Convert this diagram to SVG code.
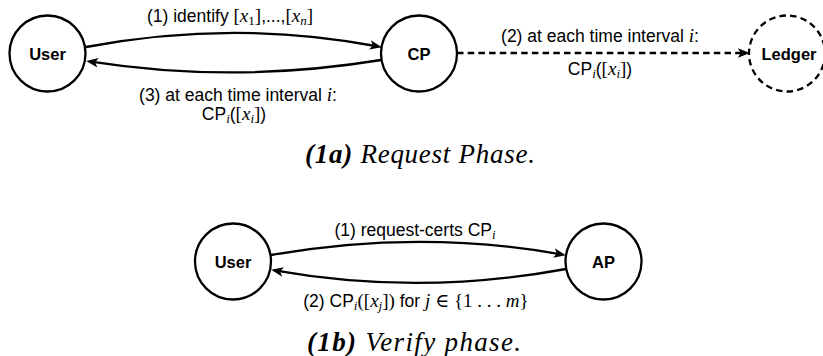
<svg xmlns="http://www.w3.org/2000/svg" width="823" height="356" viewBox="0 0 823 356">
<defs>
<style>
.node{fill:#fff;stroke:#000;stroke-width:2.3}
.dashed{stroke-dasharray:6.5,4.2}
.nl{font-family:"Liberation Sans",Arial,sans-serif;font-weight:bold;font-size:16.5px;text-anchor:middle;fill:#000}
.el{font-family:"Liberation Sans",Arial,sans-serif;font-size:17.5px;text-anchor:middle;fill:#000}
.m{font-family:"Liberation Serif","DejaVu Serif",serif;font-size:19px}
.mi{font-family:"Liberation Serif","DejaVu Serif",serif;font-style:italic;font-size:19px}
.sub{font-size:13px}
.edge{fill:none;stroke:#000;stroke-width:2.3}
.cap{font-family:"Liberation Serif","Times New Roman",serif;font-style:italic;font-size:27px;text-anchor:middle;fill:#000}
</style>
<marker id="arr" markerUnits="userSpaceOnUse" markerWidth="12" markerHeight="10" viewBox="0 0 10 8" refX="6" refY="4" orient="auto">
<path d="M0,0 L10,4 L0,8 L2.5,4 z" fill="#000"/>
</marker>
</defs>

<g id="connectors">
<path class="edge" d="M86,47 Q233.5,19 377.07,46.25" marker-end="url(#arr)"/>
<path class="edge" d="M381,60 Q234,84 90.95,61.62" marker-end="url(#arr)"/>
<path class="edge dashed" d="M457,53 L745,53" marker-end="url(#arr)"/>
<path class="edge" d="M271,255 Q418,229 561.06,254.3" marker-end="url(#arr)"/>
<path class="edge" d="M566,269 Q419,296 275.94,270.7" marker-end="url(#arr)"/>
</g>

<g id="edge-labels">
<text class="el" x="230" y="22">(1) identify <tspan class="m">[</tspan><tspan class="mi">x</tspan><tspan class="m sub" dy="3">1</tspan><tspan class="m" dy="-3">]</tspan>,...,<tspan class="m">[</tspan><tspan class="mi">x</tspan><tspan class="mi sub" dy="3">n</tspan><tspan class="m" dy="-3">]</tspan></text>
<text class="el" x="238" y="101">(3) at each time interval <tspan class="mi">i</tspan>:</text>
<text class="el" x="234" y="120">CP<tspan class="mi sub" dy="3">i</tspan><tspan dy="-3">(</tspan><tspan class="m">[</tspan><tspan class="mi">x</tspan><tspan class="mi sub" dy="3">i</tspan><tspan class="m" dy="-3">]</tspan>)</text>
<text class="el" x="600" y="42">(2) at each time interval <tspan class="mi">i</tspan>:</text>
<text class="el" x="600" y="75">CP<tspan class="mi sub" dy="3">i</tspan><tspan dy="-3">(</tspan><tspan class="m">[</tspan><tspan class="mi">x</tspan><tspan class="mi sub" dy="3">i</tspan><tspan class="m" dy="-3">]</tspan>)</text>
<text class="el" x="415" y="236">(1) request-certs CP<tspan class="mi sub" dy="3">i</tspan></text>
<text class="el" x="416" y="307">(2) CP<tspan class="mi sub" dy="3">i</tspan><tspan class="m" dy="-3">([</tspan><tspan class="mi">x</tspan><tspan class="mi sub" dy="3">j</tspan><tspan class="m" dy="-3">])</tspan> for <tspan class="mi">j</tspan> <tspan class="m">∈ {1 . . . </tspan><tspan class="mi">m</tspan><tspan class="m">}</tspan></text>
</g>

<g id="node-user-a">
<circle class="node" cx="47.5" cy="53.5" r="38"/>
<text class="nl" x="47.5" y="60">User</text>
</g>
<g id="node-cp">
<circle class="node" cx="419" cy="53.5" r="38"/>
<text class="nl" x="419" y="60">CP</text>
</g>
<g id="node-ledger">
<circle class="node dashed" cx="787" cy="53.5" r="38"/>
<text class="nl" x="789" y="60">Ledger</text>
</g>
<g id="node-user-b">
<circle class="node" cx="233" cy="261.5" r="38"/>
<text class="nl" x="233" y="268">User</text>
</g>
<g id="node-ap">
<circle class="node" cx="603.5" cy="261.5" r="38"/>
<text class="nl" x="603.5" y="268">AP</text>
</g>

<g id="captions">
<text class="cap" x="420" y="163" textLength="230"><tspan font-weight="bold">(1a)</tspan> Request Phase.</text>
<text class="cap" x="414" y="351" textLength="214"><tspan font-weight="bold">(1b)</tspan> Verify phase.</text>
</g>
</svg>
